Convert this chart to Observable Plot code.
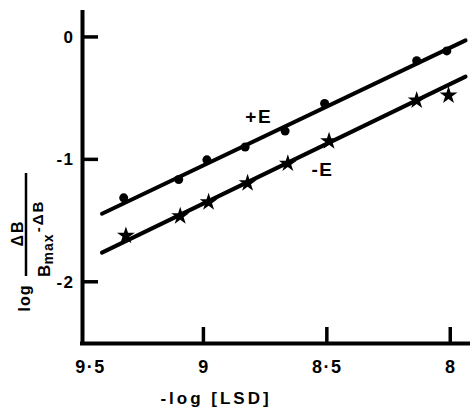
<!DOCTYPE html>
<html>
<head>
<meta charset="utf-8">
<script src="https://cdn.jsdelivr.net/npm/d3@7"></script>
<script src="https://cdn.jsdelivr.net/npm/@observablehq/plot@0.6"></script>
<style>
  html, body { margin: 0; padding: 0; background: white; }
</style>
</head>
<body>
<div id="chart"></div>
<script>
// x: -log[LSD], y: log(ΔB/(Bmax-ΔB))
const xTicks = [9.5, 9, 8.5, 8];
const yTicks = [0, -1, -2];

const xPlus  = [9.325, 9.102, 8.988, 8.833, 8.671, 8.511, 8.138, 8.016];
const yPlus  = [-1.31, -1.16, -1.00, -0.895, -0.765, -0.54, -0.19, -0.11];
const xMinus = [9.316, 9.096, 8.981, 8.823, 8.660, 8.493, 8.138, 8.009];
const yMinus = [-1.62, -1.46, -1.345, -1.19, -1.03, -0.847, -0.515, -0.473];

// fitted straight lines (end points)
const fitX     = [9.413, 7.940];
const fitPlus  = [-1.44, -0.024];
const fitMinus = [-1.758, -0.32];

// series labels
const seriesLabels = ["+E", "-E"];
const labelX = [8.778, 8.52];
const labelY = [-0.653, -1.078];

const plusData  = xPlus.map((x, i) => ({x, y: yPlus[i]}));
const minusData = xMinus.map((x, i) => ({x, y: yMinus[i]}));
const plusFit  = fitX.map((x, i) => ({x, y: fitPlus[i]}));
const minusFit = fitX.map((x, i) => ({x, y: fitMinus[i]}));
const labels = seriesLabels.map((t, i) => ({t, x: labelX[i], y: labelY[i]}));

const W = 472, H = 409, ML = 80, MR = 2, MT = 10, MB = 66;
const xMin = 9.5, xMax = 7.92, yMin = -2.5, yMax = 0.22;
const tickPx = 16;

const fmt = d => String(d).replace(".", "·");
const FONT = "'Liberation Sans', Arial, Helvetica, sans-serif";

const chart = Plot.plot({
  width: W,
  height: H,
  marginLeft: ML,
  marginRight: MR,
  marginTop: MT,
  marginBottom: MB,
  style: {fontFamily: FONT, fontWeight: "bold", fontSize: "18px", letterSpacing: "1.5px", background: "white", color: "black"},
  x: {domain: [xMin, xMax], axis: null},
  y: {domain: [yMin, yMax], axis: null},
  marks: [
    // axis lines
    Plot.ruleY([yMin], {stroke: "black", strokeWidth: 4}),
    Plot.ruleX([xMin], {stroke: "black", strokeWidth: 4, dx: 2}),
    // tick labels
    Plot.axisX({ticks: xTicks.slice(1), tickSize: 0, tickPadding: 17, tickFormat: fmt, label: null, fontSize: 18}),
    Plot.axisX({ticks: [xTicks[0]], tickSize: 0, tickPadding: 17, tickFormat: fmt, label: null, fontSize: 18, dx: 10}),
    Plot.axisY({ticks: yTicks, tickSize: 0, tickPadding: 6, tickFormat: d => String(d), label: null, fontSize: 17}),
    // fitted lines
    Plot.line(plusFit, {x: "x", y: "y", stroke: "black", strokeWidth: 4}),
    Plot.line(minusFit, {x: "x", y: "y", stroke: "black", strokeWidth: 4}),
    // data points
    Plot.dot(plusData, {x: "x", y: "y", r: 4.5, fill: "black"}),
    Plot.dot(minusData, {x: "x", y: "y", r: 5.6, symbol: "star", fill: "black"}),
    // series labels
    Plot.text(labels, {x: "x", y: "y", text: "t", fontSize: 19, fill: "black"})
  ]
});

document.getElementById("chart").appendChild(chart);

const svg = d3.select(chart);
const sx = chart.scale("x"), sy = chart.scale("y");
const x0 = sx.apply(xMin) + 2, y0 = sy.apply(yMin);

// inward ticks, positioned through Plot's scales
xTicks.slice(1).forEach(v => {
  const px = sx.apply(v);
  svg.append("line").attr("x1", px).attr("x2", px).attr("y1", y0).attr("y2", y0 - tickPx)
    .attr("stroke", "black").attr("stroke-width", 3.5);
});
yTicks.forEach(v => {
  const py = sy.apply(v);
  svg.append("line").attr("x1", x0).attr("x2", x0 + tickPx).attr("y1", py).attr("y2", py)
    .attr("stroke", "black").attr("stroke-width", 3.5);
});

// axis titles
svg.append("text")
  .attr("x", 216).attr("y", 404)
  .attr("text-anchor", "middle")
  .attr("font-size", 17)
  .style("letter-spacing", "3px")
  .attr("fill", "black")
  .text("-log [LSD]");

const g = svg.append("g").attr("transform", "rotate(-90)").attr("fill", "black");
g.append("text").attr("x", -298).attr("y", 29.5).attr("text-anchor", "middle")
  .attr("font-size", 16).style("letter-spacing", "1px").text("log");
g.append("text").attr("x", -233).attr("y", 23).attr("text-anchor", "middle")
  .attr("font-size", 16).style("letter-spacing", "2px").text("ΔB");
g.append("line").attr("x1", -276).attr("x2", -173).attr("y1", 26).attr("y2", 26)
  .attr("stroke", "black").attr("stroke-width", 2.5);
g.append("text").attr("x", -270).attr("y", 50).attr("font-size", 17).text("B");
g.append("text").attr("x", -249).attr("y", 53).attr("font-size", 14).style("letter-spacing", "1px").text("max");
g.append("text").attr("x", -216).attr("y", 43).attr("font-size", 15).style("letter-spacing", "2px").text("-ΔB");
</script>
</body>
</html>
